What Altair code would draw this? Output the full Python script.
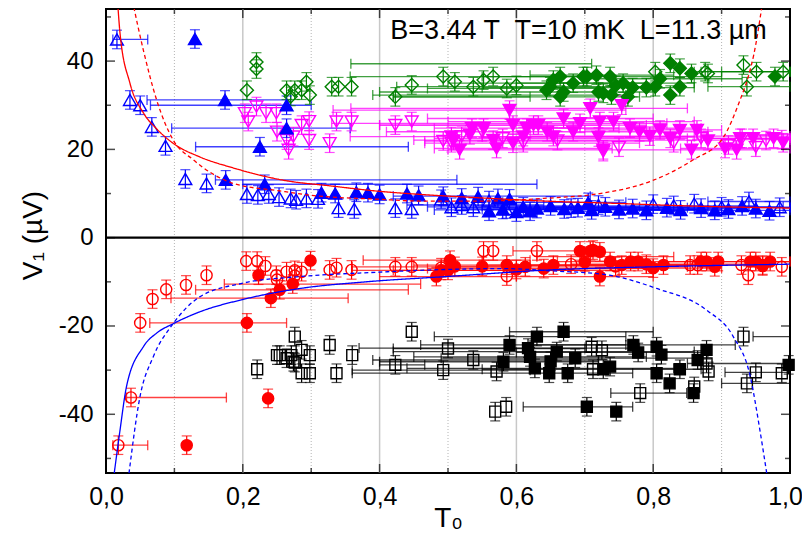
import altair as alt
import pandas as pd

# ---------------- axis extents / ticks ----------------
X_DOMAIN = [0.0, 1.0]
Y_DOMAIN = [-53.3, 51.8]
x_major = [0.0, 0.2, 0.4, 0.6, 0.8, 1.0]
x_minor = [0.1, 0.3, 0.5, 0.7, 0.9]
y_major = [-40, -20, 0, 20, 40]
y_minor = [-50, -30, -10, 10, 30, 50]
zero_level = [0]

annotation = ["B=3.44 T\u00a0 T=10 mK\u00a0 L=11.3 \u00b5m"]
annot_x = [0.966]
annot_y = [44.9]

YERR = 2.1

# ---------------- data ----------------
# blue open triangles
bo_x = [0.016,0.035,0.050,0.067,0.087,0.116,0.147,0.206,0.222,0.238,0.253,0.270,0.278,0.293,0.310,0.340,0.363,0.423,0.447,0.490,0.505,0.520,0.537,0.560,0.585,0.680,0.720,0.800,0.830,0.860,0.900,0.940,0.985]
bo_y = [44.9,31.2,30.0,25.1,20.8,13.3,12.3,9.9,9.7,9.9,9.2,8.9,8.6,8.9,8.8,6.7,6.5,6.7,6.5,8.7,6.9,7.4,6.9,8.4,6.5,6.7,7.4,7.6,7.3,7.7,7.0,8.2,6.9]
bo_bar_y = [44.9, 7.4, 8.2, 6.9]
bo_bar_lo = [0.010, 0.44, 0.88, 0.93]
bo_bar_hi = [0.061, 0.64, 1.0, 1.0]

# blue filled triangles
bf_x = [0.130,0.174,0.264,0.264,0.225,0.175,0.232,0.315,0.335,0.366,0.383,0.400,0.440,0.457,0.493,0.520,0.544,0.573,0.590,0.560,0.580,0.600,0.610,0.620,0.630,0.650,0.670,0.690,0.705,0.710,0.730,0.750,0.770,0.790,0.820,0.840,0.870,0.890,0.910,0.930,0.950,0.970]
bf_y = [45.0,31.2,30.0,24.8,20.6,13.1,12.1,10.2,10.0,10.3,10.2,9.8,10.0,9.6,9.4,9.0,9.3,8.9,8.8,6.0,6.4,5.8,7.0,6.0,6.6,7.2,6.5,6.8,8.0,6.3,7.0,6.4,6.6,6.2,6.8,6.3,6.7,6.2,6.5,7.2,6.6,6.1]
bf_bar_y = [31.2,30.0,24.8,20.6,13.1,12.1,9.4,7.0,7.2,6.8,8.0,7.0,6.8,6.2,6.6,6.4,6.3,6.5]
bf_bar_lo = [0.06,0.065,0.096,0.131,0.16,0.20,0.42,0.47,0.55,0.50,0.58,0.60,0.65,0.75,0.62,0.55,0.48,0.52]
bf_bar_hi = [0.27,0.30,0.357,0.442,0.513,0.63,0.708,0.78,0.95,0.85,0.76,0.99,1.0,1.0,0.93,0.90,0.88,0.80]

# magenta open triangles (down)
mo_x = [0.203,0.208,0.220,0.234,0.249,0.250,0.264,0.267,0.274,0.286,0.297,0.297,0.327,0.337,0.359,0.423,0.447,0.493,0.505,0.520,0.550,0.580,0.610,0.660,0.727,0.750,0.830,0.870,0.910,0.930,0.950,0.965,0.988]
mo_y = [28.2,26.3,29.7,28.2,28.2,24.0,22.1,19.9,22.9,25.5,26.4,22.1,21.4,26.3,26.3,25.5,26.3,21.9,21.5,23.0,24.0,22.5,21.5,22.0,19.5,20.5,21.5,22.5,21.0,22.5,20.5,22.0,22.2]
mo_bar_y = [25.5,21.9,22.5,22.5,22.2]
mo_bar_lo = [0.40,0.466,0.48,0.87,0.93]
mo_bar_hi = [0.72,0.80,0.85,1.0,1.0]

# magenta filled triangles (down)
mf_x = [0.505,0.508,0.517,0.532,0.535,0.552,0.566,0.571,0.590,0.595,0.595,0.610,0.615,0.625,0.632,0.645,0.654,0.669,0.683,0.693,0.708,0.720,0.722,0.727,0.742,0.754,0.766,0.780,0.795,0.810,0.825,0.839,0.856,0.864,0.880,0.905,0.922,0.927,0.946,0.976,0.990]
mf_y = [22.9,22.0,19.9,23.3,24.8,24.8,22.1,20.2,28.9,21.4,25.5,22.9,24.8,25.5,25.5,24.0,22.9,27.0,24.0,25.9,29.3,22.8,26.3,19.9,26.3,30.0,24.8,24.0,23.0,24.4,22.5,24.4,19.9,24.4,22.0,20.2,19.9,22.5,22.5,22.5,21.5]
mf_bar_y = [28.9,29.3,27.0,25.5,24.8,22.9,21.4,20.2,19.9,24.4,20.2,22.5,22.8,24.8,25.9,24.0,22.1,26.3,23.0]
mf_bar_lo = [0.332,0.358,0.47,0.40,0.48,0.357,0.466,0.48,0.50,0.70,0.84,0.88,0.55,0.62,0.33,0.41,0.45,0.50,0.62]
mf_bar_hi = [0.76,0.85,0.80,0.79,0.75,0.86,0.78,0.74,0.95,0.90,1.0,1.0,0.88,0.87,0.82,0.88,0.92,0.86,1.0]

# green open diamonds
go_x = [0.206,0.220,0.220,0.264,0.270,0.276,0.286,0.293,0.298,0.330,0.340,0.359,0.423,0.447,0.493,0.510,0.537,0.552,0.566,0.586,0.600,0.803,0.876,0.880,0.932,0.937,0.951,0.990]
go_y = [33.4,39.8,38.2,33.4,32.0,33.4,33.4,35.3,32.3,34.2,34.2,34.2,31.9,34.6,36.5,35.3,34.2,35.7,36.5,33.8,34.5,37.6,37.6,37.2,39.1,34.2,37.6,37.6]
go_bar_y = [31.9,36.5,33.8,34.2,37.6,37.6,37.6]
go_bar_lo = [0.42,0.357,0.47,0.88,0.90,0.87,0.86]
go_bar_hi = [0.62,0.72,0.72,1.0,1.0,1.0,1.0]

# green filled diamonds
gf_x = [0.644,0.649,0.654,0.664,0.664,0.669,0.683,0.698,0.703,0.717,0.720,0.727,0.737,0.739,0.745,0.756,0.763,0.770,0.790,0.803,0.810,0.825,0.825,0.839,0.839,0.856,0.978]
gf_y = [33.4,34.2,35.7,36.5,31.9,33.0,35.0,36.5,36.5,36.8,33.0,32.7,36.5,32.3,34.5,35.0,31.9,34.0,34.0,34.2,36.0,39.5,32.3,38.4,34.2,37.2,36.5]
gf_bar_y = [34.2,31.9,35.0,36.5,35.0,39.4,36.8,33.0,36.0,34.0,32.3]
gf_bar_lo = [0.425,0.42,0.50,0.55,0.60,0.358,0.62,0.40,0.70,0.55,0.39]
gf_bar_hi = [0.80,0.78,0.86,0.90,0.79,0.71,0.83,0.80,0.93,0.86,0.76]

# red open circles
ro_x = [0.018,0.0365,0.050,0.068,0.088,0.117,0.147,0.205,0.221,0.233,0.249,0.250,0.264,0.276,0.276,0.286,0.327,0.337,0.359,0.423,0.447,0.490,0.552,0.566,0.586,0.630,0.680,0.745,0.854,0.865,0.929,0.939,0.960,0.988]
ro_y = [-47.0,-36.2,-19.3,-13.9,-11.7,-10.7,-8.5,-5.3,-5.3,-6.4,-8.5,-9.5,-7.7,-7.4,-8.6,-7.7,-7.3,-6.8,-7.3,-6.6,-6.6,-6.8,-3.0,-3.0,-8.7,-3.0,-6.0,-6.5,-6.2,-6.2,-6.2,-8.5,-6.4,-6.6]
ro_bar_y = [-47.0,-36.2,-3.0,-6.6,-6.2]
ro_bar_lo = [0.010,0.030,0.595,0.36,0.82]
ro_bar_hi = [0.061,0.176,0.70,0.60,0.95]

# red filled circles
rf_x = [0.118,0.206,0.237,0.241,0.254,0.223,0.273,0.299,0.483,0.490,0.500,0.503,0.510,0.550,0.586,0.600,0.613,0.640,0.654,0.693,0.700,0.708,0.712,0.722,0.722,0.737,0.754,0.767,0.778,0.790,0.800,0.815,0.870,0.878,0.890,0.895,0.942,0.950,0.960,0.971]
rf_y = [-47.0,-19.3,-36.4,-13.7,-11.8,-8.5,-10.5,-5.2,-8.8,-7.4,-7.4,-5.1,-6.5,-6.5,-6.2,-7.2,-6.6,-7.0,-6.2,-3.0,-5.5,-3.0,-2.8,-3.2,-8.8,-5.4,-6.2,-5.4,-5.4,-6.0,-6.9,-6.2,-5.4,-5.4,-6.6,-5.4,-5.4,-5.4,-6.2,-5.4]
rf_bar_y = [-19.3,-13.7,-11.8,-10.5,-8.8,-7.4,-7.4,-5.1,-6.2,-6.6,-6.2,-8.8,-6.9,-5.4,-5.4,-4.3,-6.2,-5.4,-6.0,-7.0]
rf_bar_lo = [0.064,0.095,0.131,0.173,0.40,0.42,0.36,0.376,0.45,0.50,0.55,0.60,0.70,0.82,0.87,0.63,0.62,0.66,0.68,0.47]
rf_bar_hi = [0.264,0.354,0.442,0.46,0.60,0.75,0.70,0.62,0.80,0.85,0.85,0.80,0.90,1.0,1.0,0.83,0.88,0.86,0.95,0.79]

# black open squares
ko_x = [0.221,0.250,0.254,0.264,0.271,0.274,0.276,0.276,0.286,0.286,0.298,0.298,0.327,0.337,0.360,0.423,0.447,0.493,0.500,0.537,0.569,0.585,0.571,0.710,0.725,0.712,0.781,0.860,0.881,0.878,0.932,0.937,0.950,0.988]
ko_y = [-29.8,-26.6,-26.6,-27.3,-26.6,-28.1,-22.4,-28.3,-25.4,-30.7,-26.6,-30.7,-24.3,-30.7,-26.6,-28.8,-21.3,-30.0,-25.1,-27.7,-39.4,-38.3,-30.3,-24.7,-25.5,-29.8,-35.2,-33.7,-30.3,-28.5,-22.4,-33.0,-30.5,-30.7]
ko_bar_y = [-28.8,-30.0,-25.1,-27.7,-35.2,-28.5,-22.4,-33.0,-30.5]
ko_bar_lo = [0.40,0.36,0.42,0.39,0.738,0.85,0.946,0.90,0.905]
ko_bar_hi = [0.466,0.62,0.70,0.72,0.849,1.0,1.0,1.0,1.0]

# black filled squares
kf_x = [0.581,0.590,0.617,0.620,0.627,0.630,0.648,0.650,0.659,0.669,0.675,0.686,0.703,0.727,0.737,0.746,0.771,0.778,0.805,0.805,0.812,0.824,0.839,0.859,0.865,0.878,0.998]
kf_y = [-28.1,-24.3,-25.0,-27.0,-29.6,-22.4,-30.7,-28.0,-25.8,-21.3,-30.7,-27.3,-38.3,-29.8,-29.2,-39.4,-24.3,-26.0,-24.7,-30.7,-26.5,-33.0,-29.8,-35.2,-27.7,-25.4,-28.8]
kf_bar_y = [-28.1,-24.3,-25.0,-27.0,-29.6,-22.4,-30.7,-25.8,-21.3,-38.3,-27.3,-29.8,-26.0,-24.3]
kf_bar_lo = [0.40,0.46,0.37,0.45,0.44,0.48,0.36,0.42,0.59,0.61,0.49,0.55,0.60,0.62]
kf_bar_hi = [0.72,0.76,0.78,0.79,0.83,0.76,0.77,0.86,0.80,0.77,0.86,0.87,0.88,0.92]

# fitted curves
red_solid_x = [0.017,0.0205,0.035,0.055,0.075,0.098,0.137,0.186,0.26,0.33,0.40,0.46,0.55,0.64,0.74,0.85,1.0]
red_solid_y = [53.3,46.3,35.0,28.2,24.5,21.4,18.3,15.8,13.0,11.7,10.5,9.8,9.0,8.3,7.8,7.2,6.7]
red_dash_x = [0.0385,0.0546,0.074,0.098,0.128,0.186,0.254,0.30,0.40,0.46,0.55,0.64,0.722,0.795,0.858,0.902,0.927,0.939,0.947,0.96]
red_dash_y = [53.8,42.5,31.2,22.2,17.6,12.3,10.6,9.6,8.7,8.3,8.3,8.9,10.0,12.7,17.6,22.6,31.2,36.5,41.4,53.5]
blue_solid_x = [0.012,0.0205,0.030,0.0546,0.075,0.098,0.137,0.20,0.284,0.38,0.498,0.649,0.8,1.0]
blue_solid_y = [-53.4,-43.6,-33.7,-24.7,-21.5,-19.5,-16.8,-14.0,-11.5,-10.0,-8.8,-7.3,-6.6,-6.0]
blue_dash_x = [0.0336,0.0497,0.069,0.098,0.137,0.20,0.284,0.40,0.498,0.58,0.65,0.732,0.805,0.878,0.917,0.942,0.956,0.966]
blue_dash_y = [-53.4,-36.0,-27.0,-19.5,-13.4,-10.3,-8.8,-7.8,-7.2,-7.0,-7.5,-8.4,-11.5,-16.4,-22.4,-31.5,-43.6,-53.4]

# ---------------- styles ----------------
series = [
    (ko_x, ko_y, ko_bar_y, ko_bar_lo, ko_bar_hi, "#000000", "square", False, 120),
    (kf_x, kf_y, kf_bar_y, kf_bar_lo, kf_bar_hi, "#000000", "square", True, 120),
    (ro_x, ro_y, ro_bar_y, ro_bar_lo, ro_bar_hi, "#ff0000", "circle", False, 125),
    (rf_x, rf_y, rf_bar_y, rf_bar_lo, rf_bar_hi, "#ff0000", "circle", True, 125),
    (go_x, go_y, go_bar_y, go_bar_lo, go_bar_hi, "#008000", "diamond", False, 170),
    (gf_x, gf_y, gf_bar_y, gf_bar_lo, gf_bar_hi, "#008000", "diamond", True, 170),
    (mo_x, mo_y, mo_bar_y, mo_bar_lo, mo_bar_hi, "#ff00ff", "triangle-down", False, 165),
    (mf_x, mf_y, mf_bar_y, mf_bar_lo, mf_bar_hi, "#ff00ff", "triangle-down", True, 165),
    (bo_x, bo_y, bo_bar_y, bo_bar_lo, bo_bar_hi, "#0000ff", "triangle-up", False, 165),
    (bf_x, bf_y, bf_bar_y, bf_bar_lo, bf_bar_hi, "#0000ff", "triangle-up", True, 165),
]

pts, vbars, vcaps, hbars, hcaps = [], [], [], [], []
for k, (xs, ys, by, bl, bh, col, shp, filled, sz) in enumerate(series):
    for xv, yv in zip(xs, ys):
        pts.append(dict(x=xv, y=yv, color=col, fill=col if filled else "transparent",
                        shape=shp, size=sz, order=k))
        vbars.append(dict(x=xv, ylo=yv - YERR, yhi=yv + YERR, color=col))
        vcaps.append(dict(x=xv, y=yv - YERR, color=col))
        vcaps.append(dict(x=xv, y=yv + YERR, color=col))
    for yv, lo, hi in zip(by, bl, bh):
        hbars.append(dict(y=yv, lo=lo, hi=hi, color=col))
        hcaps.append(dict(x=lo, y=yv, color=col))
        hcaps.append(dict(x=hi, y=yv, color=col))

pts_df = pd.DataFrame(pts)
vbars_df = pd.DataFrame(vbars)
vcaps_df = pd.DataFrame(vcaps)
hbars_df = pd.DataFrame(hbars)
hcaps_df = pd.DataFrame(hcaps)

curves = []
for name, xs, ys, col, dash in [
    ("rs", red_solid_x, red_solid_y, "#ff0000", [1, 0]),
    ("rd", red_dash_x, red_dash_y, "#ff0000", [4, 3]),
    ("bs", blue_solid_x, blue_solid_y, "#0000ff", [1, 0]),
    ("bd", blue_dash_x, blue_dash_y, "#0000ff", [4, 3]),
]:
    for i, (xv, yv) in enumerate(zip(xs, ys)):
        curves.append(dict(curve=name, i=i, x=xv, y=yv, color=col, dash=dash))
curves_df = pd.DataFrame(curves)

xt = []
for v in x_major:
    for e in Y_DOMAIN:
        xt.append(dict(x=v, y=e, len=18))
for v in x_minor:
    for e in Y_DOMAIN:
        xt.append(dict(x=v, y=e, len=10))
yt = []
for v in y_major:
    for e in X_DOMAIN:
        yt.append(dict(x=e, y=v, len=18))
for v in y_minor:
    for e in X_DOMAIN:
        yt.append(dict(x=e, y=v, len=10))
xt_df = pd.DataFrame(xt)
yt_df = pd.DataFrame(yt)

FONT = "Liberation Sans"
xscale = alt.Scale(domain=X_DOMAIN, nice=False, zero=False)
yscale = alt.Scale(domain=Y_DOMAIN, nice=False, zero=False)
xaxis = alt.Axis(values=x_major, labelExpr="replace(format(datum.value, '.1f'), '.', ',')",
                 ticks=False, tickSize=0, domain=False, grid=False, labelPadding=11,
                 labelFontSize=25, labelFont=FONT, labelColor="black", labelFlush=False,
                 labelOffset={"condition": {"test": "datum.value >= 0.99", "value": -5}, "value": 0},
                 labelOverlap=False, title="T\u2080", titleFont=FONT, titleFontSize=28,
                 titleFontWeight="normal", titleColor="black", titleY=53,
                 titleBaseline="alphabetic")
yaxis = alt.Axis(values=y_major,
                 labelExpr="datum.value < 0 ? '-' + abs(datum.value) : '' + datum.value",
                 ticks=False, tickSize=0, domain=False, grid=False, labelPadding=13,
                 labelFontSize=24, labelFont=FONT, labelColor="black", labelOverlap=False,
                 title="V\u2081 (\u00b5V)", titleFont=FONT, titleFontSize=28,
                 titleFontWeight="normal", titleColor="black", titleX=-65, titleY=226,
                 titleAngle=270, titleAlign="center", titleBaseline="alphabetic")


def X(f):
    return alt.X(f, type="quantitative", scale=xscale, axis=xaxis)


def Y(f):
    return alt.Y(f, type="quantitative", scale=yscale, axis=yaxis)


grid_major = alt.Chart(pd.DataFrame({"x": x_major[1:-1]})).mark_rule(
    color="#c8c8c8", strokeWidth=1.5).encode(x=X("x"))
grid_minor = alt.Chart(pd.DataFrame({"x": x_minor})).mark_rule(
    color="#b4b4b4", strokeWidth=1, strokeDash=[1, 2]).encode(x=X("x"))
zero = alt.Chart(pd.DataFrame({"y": zero_level})).mark_rule(
    color="black", strokeWidth=2.2).encode(y=Y("y"))

hbar_layer = alt.Chart(hbars_df).mark_rule(strokeWidth=1.3, opacity=0.75).encode(
    x=X("lo"), x2=alt.X2("hi"), y=Y("y"), color=alt.Color("color:N", scale=None))
hcap_layer = alt.Chart(hcaps_df).mark_tick(orient="vertical", size=10, thickness=1.3,
                                           opacity=0.75).encode(
    x=X("x"), y=Y("y"), color=alt.Color("color:N", scale=None))
vbar_layer = alt.Chart(vbars_df).mark_rule(strokeWidth=1.2).encode(
    x=X("x"), y=Y("ylo"), y2=alt.Y2("yhi"), color=alt.Color("color:N", scale=None))
vcap_layer = alt.Chart(vcaps_df).mark_tick(orient="horizontal", size=10, thickness=1.2).encode(
    x=X("x"), y=Y("y"), color=alt.Color("color:N", scale=None))

points = alt.Chart(pts_df).mark_point(opacity=1, strokeWidth=1.4, filled=False).encode(
    x=X("x"), y=Y("y"),
    shape=alt.Shape("shape:N", scale=None),
    stroke=alt.Stroke("color:N", scale=None),
    fill=alt.Fill("fill:N", scale=None),
    size=alt.Size("size:Q", scale=None),
    order=alt.Order("order:Q"))

curve_layer = alt.Chart(curves_df).mark_line(clip=True, interpolate="monotone",
                                             strokeWidth=1.3).encode(
    x=X("x"), y=Y("y"), detail="curve:N", order=alt.Order("i:Q"),
    color=alt.Color("color:N", scale=None),
    strokeDash=alt.StrokeDash("dash", scale=None))

xtick_layer = alt.Chart(xt_df).mark_tick(orient="vertical", thickness=1.5, clip=True,
                                         color="black").encode(
    x=X("x"), y=Y("y"), size=alt.Size("len:Q", scale=None))
ytick_layer = alt.Chart(yt_df).mark_tick(orient="horizontal", thickness=1.5, clip=True,
                                         color="black").encode(
    x=X("x"), y=Y("y"), size=alt.Size("len:Q", scale=None))

annot = alt.Chart(pd.DataFrame({"x": annot_x, "y": annot_y, "t": annotation})).mark_text(
    align="right", baseline="alphabetic", fontSize=27, font=FONT, color="black").encode(
    x=X("x"), y=Y("y"), text="t:N")

chart = alt.layer(
    grid_minor, grid_major, zero, hbar_layer, hcap_layer, vbar_layer, vcap_layer,
    points, curve_layer, xtick_layer, ytick_layer, annot
).properties(
    width=684, height=464,
    padding={"left": 98, "top": 1, "right": 12, "bottom": 60},
    autosize=alt.AutoSizeParams(type="none"),
).configure(font=FONT).configure_view(stroke="black", strokeWidth=2)

chart.save("out.html", embed_options={"renderer": "svg", "actions": False})
